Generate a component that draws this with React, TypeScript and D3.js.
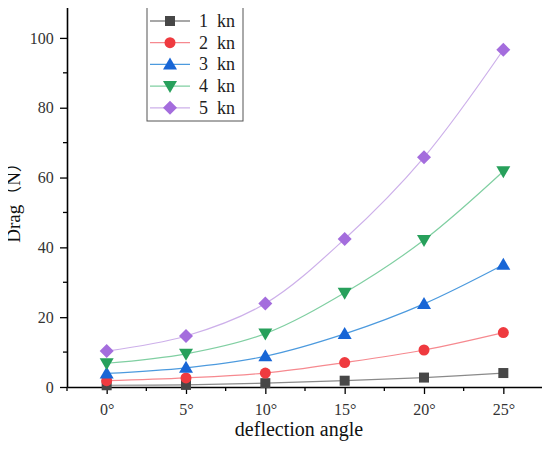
import { useEffect, useRef } from "react";
import * as d3 from "d3";

const angles = [0, 5, 10, 15, 20, 25];
const seriesNames = ["1  kn", "2  kn", "3  kn", "4  kn", "5  kn"];
const drag1 = [0.5, 0.6, 1.1, 1.8, 2.7, 4.0];
const drag2 = [1.8, 2.6, 4.0, 7.0, 10.6, 15.6];
const drag3 = [3.9, 5.5, 8.8, 15.2, 23.8, 35.0];
const drag4 = [6.8, 9.5, 15.3, 27.0, 42.1, 61.8];
const drag5 = [10.3, 14.6, 23.9, 42.4, 65.8, 96.6];
const yTicks = [0, 20, 40, 60, 80, 100];

const markerColors = ["#474747", "#ef3a3f", "#1866d6", "#27a05b", "#a46ddd"];
const lineColors = ["#8a8a8a", "#f6898f", "#4c9ade", "#80cfa2", "#cdb0ea"];
const symbols = ["square", "circle", "triangle", "triangleDown", "diamond"];

const W = 550;
const H = 452;
const margin = { top: 3, right: 7, bottom: 65, left: 67 };
const SERIF = "'Liberation Serif', 'Times New Roman', serif";

function drawMarker(g: any, kind: string, x: number, y: number, color: string) {
  if (kind === "square") {
    g.append("rect").attr("x", x - 5).attr("y", y - 5).attr("width", 10).attr("height", 10).attr("fill", color);
  } else if (kind === "circle") {
    g.append("circle").attr("cx", x).attr("cy", y).attr("r", 5.5).attr("fill", color);
  } else if (kind === "triangle") {
    g.append("path").attr("d", `M${x},${y - 7}L${x + 7},${y + 5}L${x - 7},${y + 5}Z`).attr("fill", color);
  } else if (kind === "triangleDown") {
    g.append("path").attr("d", `M${x},${y + 7}L${x + 7},${y - 5}L${x - 7},${y - 5}Z`).attr("fill", color);
  } else {
    g.append("path").attr("d", `M${x},${y - 7}L${x + 7},${y}L${x},${y + 7}L${x - 7},${y}Z`).attr("fill", color);
  }
}

export default function App() {
  const svgRef = useRef<SVGSVGElement | null>(null);

  useEffect(() => {
    if (!svgRef.current) return;
    const svg = d3.select(svgRef.current);
    svg.selectAll("*").remove();

    const series = [drag1, drag2, drag3, drag4, drag5];
    const innerW = W - margin.left - margin.right;
    const innerH = H - margin.top - margin.bottom;

    const x = d3.scaleLinear().domain([-2.5, 27.5]).range([0, innerW]);
    const y = d3.scaleLinear().domain([0, 110]).range([innerH, 0]);

    const g = svg.append("g").attr("transform", `translate(${margin.left},${margin.top})`);

    // minor ticks
    g.append("g")
      .selectAll("line")
      .data(d3.range(-2.5, 27.6, 5))
      .join("line")
      .attr("x1", (d) => x(d))
      .attr("x2", (d) => x(d))
      .attr("y1", innerH)
      .attr("y2", innerH + 4)
      .attr("stroke", "#000")
      .attr("stroke-width", 1.3);
    g.append("g")
      .selectAll("line")
      .data(d3.range(10, 111, 20))
      .join("line")
      .attr("x1", -4)
      .attr("x2", 0)
      .attr("y1", (d) => y(d))
      .attr("y2", (d) => y(d))
      .attr("stroke", "#000")
      .attr("stroke-width", 1.3);

    const xAxis = g
      .append("g")
      .attr("transform", `translate(0,${innerH})`)
      .call(
        d3
          .axisBottom(x)
          .tickValues(angles)
          .tickSize(7)
          .tickSizeOuter(0)
          .tickFormat((d) => `${d}°`)
      );
    const yAxis = g
      .append("g")
      .call(d3.axisLeft(y).tickValues(yTicks).tickSize(7).tickSizeOuter(0));

    [xAxis, yAxis].forEach((a) => {
      a.attr("font-family", SERIF).attr("font-size", 16);
      a.select(".domain").attr("stroke", "#000").attr("stroke-width", 1.6);
      a.selectAll(".tick line").attr("stroke", "#000").attr("stroke-width", 1.3);
      a.selectAll(".tick text").attr("fill", "#333");
    });
    xAxis.selectAll(".tick text").attr("dy", "1.1em");
    yAxis.selectAll(".tick text").attr("dx", "-0.2em");

    const line = d3
      .line<number>()
      .x((_d, i) => x(angles[i]))
      .y((d) => y(d))
      .curve(d3.curveCatmullRom.alpha(0.5));

    series.forEach((vals, si) => {
      g.append("path")
        .datum(vals)
        .attr("d", line)
        .attr("fill", "none")
        .attr("stroke", lineColors[si])
        .attr("stroke-width", 1.2);
    });
    series.forEach((vals, si) => {
      vals.forEach((v, i) => drawMarker(g, symbols[si], x(angles[i]), y(v), markerColors[si]));
    });

    // axis titles
    svg
      .append("text")
      .attr("x", 299)
      .attr("y", 436)
      .attr("text-anchor", "middle")
      .attr("font-family", SERIF)
      .attr("font-size", 20)
      .attr("fill", "#111")
      .text("deflection angle");
    svg
      .append("text")
      .attr("transform", `translate(20,${198}) rotate(-90)`)
      .attr("text-anchor", "middle")
      .attr("font-family", "'Liberation Serif', 'Noto Sans CJK SC', serif")
      .attr("font-size", 19)
      .attr("fill", "#111")
      .text("Drag（N）");

    // legend
    const lg = svg.append("g").attr("transform", "translate(147,7)");
    lg.append("rect")
      .attr("width", 96)
      .attr("height", 114)
      .attr("fill", "#fff")
      .attr("stroke", "#555")
      .attr("stroke-width", 1);
    seriesNames.forEach((name, si) => {
      const cy = 14 + si * 21.7;
      lg.append("line")
        .attr("x1", 3)
        .attr("x2", 43)
        .attr("y1", cy)
        .attr("y2", cy)
        .attr("stroke", lineColors[si])
        .attr("stroke-width", 1.3);
      drawMarker(lg, symbols[si], 23, cy, markerColors[si]);
      lg.append("text")
        .attr("x", 52)
        .attr("y", cy + 6)
        .attr("font-family", SERIF)
        .attr("font-size", 18)
        .attr("fill", "#222")
        .style("white-space", "pre")
        .text(name);
    });
  }, []);

  return <svg ref={svgRef} width={W} height={H} style={{ display: "block", margin: "-8px" }} />;
}
